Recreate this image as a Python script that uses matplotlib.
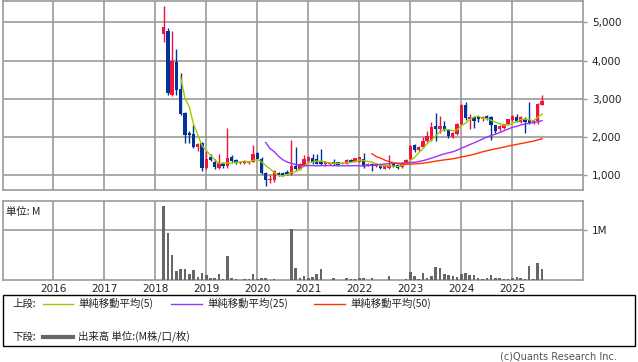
import matplotlib
matplotlib.use("Agg")
import matplotlib.pyplot as plt
import matplotlib.dates as mdates
import matplotlib.patches as mpatches
import matplotlib.lines as mlines
import numpy as np
import pandas as pd

plt.rcParams['font.family'] = ['DejaVu Sans']
JP = ['Noto Sans CJK JP', 'DejaVu Sans']

# ---- data (monthly candles, Mar 2018 - Aug 2025) ----
start_month = "2018-03-01"
opens = [4700, 4770, 3110, 3960, 3250, 2620, 2100, 2070, 1740, 1850,
         1190, 1480, 1350, 1195, 1300, 1225, 1475, 1400, 1310, 1320,
         1310, 1340, 1570, 1420, 1060, 860, 870, 1060, 1050, 1080,
         1040, 1230, 1150, 1270, 1380, 1450, 1410, 1370, 1280, 1280,
         1340, 1330, 1300, 1290, 1400, 1350, 1350, 1420, 1250, 1300,
         1230, 1240, 1160, 1180, 1300, 1260, 1200, 1310, 1410, 1780,
         1660, 1740, 1880, 1920, 2280, 2200, 2280, 2180, 2000, 2070,
         2340, 2830, 2470, 2530, 2520, 2460, 2540, 2530, 2300, 2200,
         2230, 2340, 2440, 2530, 2400, 2470, 2450, 2370, 2420, 2840]
highs = [5430, 4840, 4770, 4300, 3670, 2640, 2150, 2310, 1830, 1860,
         1640, 1560, 1420, 1560, 1340, 2240, 1530, 1420, 1380, 1390,
         1370, 1790, 1610, 1470, 1070, 1000, 1120, 1080, 1090, 1130,
         1920, 1740, 1320, 1530, 1510, 1560, 1550, 1680, 1360, 1340,
         1410, 1340, 1350, 1420, 1420, 1450, 1480, 1580, 1320, 1320,
         1270, 1260, 1300, 1530, 1320, 1280, 1330, 1420, 1780, 1810,
         1760, 1990, 2160, 2400, 2630, 2550, 2420, 2200, 2120, 2360,
         2860, 2920, 2600, 2540, 2540, 2540, 2560, 2540, 2320, 2300,
         2350, 2480, 2570, 2600, 2550, 2520, 2920, 2450, 2880, 3100]
lows = [4480, 3110, 3080, 3090, 2560, 1850, 1850, 1720, 1630, 1110,
        1170, 1360, 1160, 1170, 1190, 1190, 1330, 1300, 1290, 1290,
        1290, 1330, 1420, 1040, 720, 800, 820, 980, 980, 1000,
        1000, 1120, 1130, 1250, 1350, 1300, 1280, 1260, 1230, 1260,
        1250, 1260, 1290, 1280, 1330, 1340, 1330, 1190, 1230, 1110,
        1210, 1170, 1150, 1170, 1200, 1170, 1190, 1290, 1400, 1600,
        1640, 1700, 1870, 1900, 1880, 2100, 2150, 1970, 1970, 2050,
        2300, 2430, 2200, 2230, 2400, 2420, 2440, 1930, 2100, 2150,
        2200, 2320, 2420, 2380, 2370, 2110, 2330, 2330, 2330, 2830]
closes = [4880, 3160, 4000, 3220, 2610, 2060, 2040, 1740, 1820, 1190,
          1420, 1400, 1200, 1310, 1230, 1445, 1360, 1320, 1350, 1340,
          1345, 1550, 1430, 1060, 860, 900, 1100, 1000, 1000, 1020,
          1240, 1170, 1300, 1420, 1470, 1330, 1300, 1290, 1340, 1320,
          1300, 1270, 1320, 1400, 1350, 1440, 1460, 1240, 1300, 1240,
          1250, 1190, 1250, 1260, 1220, 1190, 1320, 1400, 1770, 1660,
          1740, 1890, 2020, 2270, 2210, 2280, 2180, 2020, 2100, 2340,
          2830, 2490, 2520, 2420, 2470, 2520, 2460, 2310, 2160, 2280,
          2330, 2460, 2550, 2400, 2530, 2400, 2360, 2420, 2860, 2950]
volumes_m = [1.48, 0.94, 0.51, 0.19, 0.23, 0.23, 0.13, 0.21, 0.07, 0.15,
             0.11, 0.05, 0.05, 0.13, 0.03, 0.49, 0.05, 0.03, 0.01, 0.03,
             0.03, 0.13, 0.03, 0.05, 0.05, 0.01, 0.03, 0.01, 0.01, 0.01,
             1.03, 0.25, 0.05, 0.09, 0.05, 0.07, 0.13, 0.23, 0.01, 0.01,
             0.05, 0.01, 0.01, 0.05, 0.03, 0.03, 0.05, 0.05, 0.01, 0.05,
             0.01, 0.01, 0.01, 0.09, 0.01, 0.01, 0.01, 0.03, 0.17, 0.09,
             0.03, 0.15, 0.05, 0.09, 0.27, 0.25, 0.13, 0.11, 0.09, 0.07,
             0.13, 0.15, 0.11, 0.11, 0.05, 0.03, 0.05, 0.11, 0.05, 0.05,
             0.03, 0.03, 0.05, 0.07, 0.05, 0.03, 0.29, 0.03, 0.35, 0.23]
year_labels = ["2016", "2017", "2018", "2019", "2020", "2021", "2022", "2023", "2024", "2025"]
price_ticks = [1000, 2000, 3000, 4000, 5000]
ma_windows = [5, 25, 50]
ma_colors = ["#99cc00", "#9933ff", "#ff3300"]
legend_ma = ["単純移動平均(5)", "単純移動平均(25)", "単純移動平均(50)"]

dates = pd.date_range(start_month, periods=len(closes), freq="MS")
x = mdates.date2num(dates.to_pydatetime())
o = np.array(opens, float); h = np.array(highs, float)
l = np.array(lows, float); c = np.array(closes, float)
up = c >= o

UP_C = "#f0143c"
DN_C = "#003399"
GRID_C = "#999999"

W, H = 638, 362
fig = plt.figure(figsize=(W / 100, H / 100), dpi=100)

def fx(px): return px / W
def fy(py): return 1 - py / H

axL, axR = 3, 582.7
ax = fig.add_axes([fx(axL), fy(190.3), fx(axR - axL), (190.3 - 1) / H])
axv = fig.add_axes([fx(axL), fy(280), fx(axR - axL), (280 - 201) / H])

xmin = mdates.date2num(pd.Timestamp("2015-01-06"))
xmax = mdates.date2num(pd.Timestamp("2026-05-19"))
year_x = [mdates.date2num(pd.Timestamp(f"{y}-01-01")) for y in year_labels]

for a in (ax, axv):
    a.set_xlim(xmin, xmax)
    for s in a.spines.values():
        s.set_color(GRID_C)
        s.set_linewidth(1.2)
    a.set_xticks(year_x)
    a.grid(True, color=GRID_C, linewidth=1.2)
    a.set_axisbelow(True)
    a.yaxis.tick_right()

ax.set_ylim(600, 5560)
ax.set_yticks(price_ticks)
ax.set_yticklabels([f"{v:,}" for v in price_ticks], fontsize=7.5, color="#222222")
ax.tick_params(axis='y', length=3, color=GRID_C, width=1, pad=3.5)
ax.tick_params(axis='x', length=0, labelbottom=False)

# candles
body_w = 24
ax.vlines(x, l, h, colors=np.where(up, UP_C, DN_C), linewidth=1.0, zorder=3)
ax.bar(x, np.maximum(np.abs(c - o), 8), bottom=np.minimum(o, c), width=body_w,
       color=np.where(up, UP_C, DN_C), linewidth=0, zorder=4)

# moving averages
cs = pd.Series(c)
for win, col in zip(ma_windows, ma_colors):
    ma = cs.rolling(win).mean()
    ax.plot(x, ma, color=col, linewidth=1.0, zorder=5)

# volume
axv.set_ylim(0, 1.58)
axv.bar(x, volumes_m, width=18, color="#666666", linewidth=0, zorder=3)
axv.set_yticks([1])
axv.set_yticklabels(["1M"], fontsize=7.5, color="#222222")
axv.tick_params(axis='y', length=3, color=GRID_C, width=1, pad=3.5)
axv.set_xticklabels(year_labels, fontsize=7.5, color="#222222")
axv.tick_params(axis='x', length=0, pad=3)
axv.text(0.006, 0.93, "単位: M", transform=axv.transAxes, fontsize=7.5,
         family=JP, va='top', ha='left', color="#222222")

# legend box
fig.patches.append(mpatches.Rectangle((fx(3), fy(346)), fx(632), (346 - 295) / H,
                                      transform=fig.transFigure, fill=False,
                                      edgecolor="black", linewidth=1.0))
row1, row2 = fy(303.5), fy(336.5)
fig.text(fx(12), row1, "上段:", fontsize=7.5, family=JP, va='center', color="#222222")
seg = [(43, 73, 78), (171, 202, 207), (314, 345, 350)]
for (x0, x1, tx), col, lab in zip(seg, ma_colors, legend_ma):
    fig.lines.append(mlines.Line2D([fx(x0), fx(x1)], [row1, row1], color=col,
                                   linewidth=1.0, transform=fig.transFigure))
    fig.text(fx(tx), row1, lab, fontsize=7.5, family=JP, va='center', color="#222222")
fig.text(fx(12), row2, "下段:", fontsize=7.5, family=JP, va='center', color="#222222")
fig.lines.append(mlines.Line2D([fx(43), fx(73)], [row2, row2], color="#666666",
                               linewidth=3.0, transform=fig.transFigure))
fig.text(fx(78), row2, "出来高 単位:(M株/口/枚)", fontsize=7.5, family=JP, va='center', color="#222222")

fig.text(fx(617), fy(356.5), "(c)Quants Research Inc.", fontsize=7, ha='right',
         va='center', color="#555555")

fig.savefig("out.png", dpi=100)
